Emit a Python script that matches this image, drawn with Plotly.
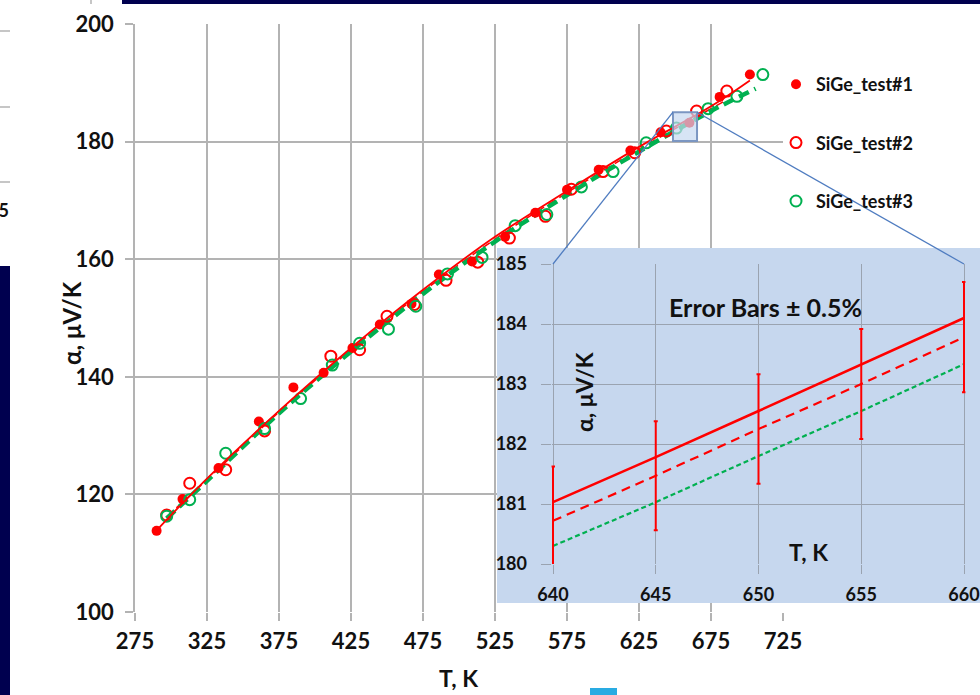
import plotly.graph_objects as go

# ---- measured Seebeck coefficient, three SiGe samples ----
t1 = [290, 308, 333, 361, 385, 406, 426, 445, 467, 486, 509, 532, 553, 575, 597, 619, 640, 660, 681, 702]
a1 = [113.8, 119.2, 124.5, 132.4, 138.2, 140.7, 144.9, 148.9, 152.4, 157.4, 159.6, 163.8, 167.9, 171.8,
      175.2, 178.5, 181.6, 183.2, 187.6, 191.4]

t2 = [297, 313, 338, 365, 411, 431, 450, 469, 491, 513, 535, 560, 578, 600, 622, 644, 665, 686]
a2 = [116.5, 121.9, 124.2, 130.8, 143.5, 144.6, 150.3, 152.3, 156.4, 159.5, 163.6, 167.3, 171.9,
      174.9, 178.1, 181.8, 185.2, 188.6]

t3 = [297, 313, 338, 365, 390, 412, 431, 451, 470, 492, 516, 539, 561, 585, 607, 630, 651, 673, 693, 711]
a3 = [116.3, 119.1, 127.0, 131.2, 136.3, 142.0, 145.7, 148.1, 152.0, 157.5, 160.3, 165.7, 167.6, 172.3,
      174.9, 179.8, 182.3, 185.6, 187.7, 191.4]

# trend lines of each sample
fit_t1 = [290, 325, 375, 425, 475, 525, 575, 625, 675, 702]
fit_a1 = [113.9, 122.7, 134.2, 144.9, 154.8, 163.8, 171.6, 179.1, 186.0, 190.4]
fit_t2 = [297, 325, 375, 425, 475, 525, 575, 625, 675, 686]
fit_a2 = [116.2, 122.5, 134.0, 144.6, 154.5, 163.4, 171.3, 178.7, 185.6, 187.1]
fit_t3 = [297, 325, 375, 425, 475, 525, 575, 625, 675, 706]
fit_a3 = [115.9, 122.3, 133.8, 144.3, 154.1, 163.0, 170.9, 178.3, 185.2, 189.0]

# zoomed window 640-660 K
zoom_t = [640, 645, 650, 655, 660]
zoom_fit1 = [181.03, 181.78, 182.55, 183.33, 184.10]
zoom_fit2 = [180.72, 181.47, 182.25, 183.00, 183.78]
zoom_fit3 = [180.30, 181.03, 181.80, 182.55, 183.33]
err_pct = 0.5

names = ["SiGe_test#1", "SiGe_test#2", "SiGe_test#3"]
main_xticks = [275, 325, 375, 425, 475, 525, 575, 625, 675, 725]
main_yticks = [100, 120, 140, 160, 180, 200]
zoom_xticks = [640, 645, 650, 655, 660]
zoom_box_t = [648.6, 665.3]
zoom_box_a = [180.1, 185.0]

RED = "#ff0000"
GREEN = "#00b050"
FONT = "Lato, 'Open Sans', sans-serif"
W, H = 980, 695


def px_x(p):
    return p / W


def px_y(p):
    return 1 - p / H


# axis domains (paper fractions)
main_dx = [px_x(135), px_x(783)]
main_dy = [px_y(612), px_y(24)]
bg_dx = [px_x(497), 1.0]
bg_dy = [px_y(603), px_y(248)]
main_xr = [275, 725]
main_yr = [100, 200]
# inset: 640..660 spans 553..964 px; a small pad keeps the edge error bars whole
ins_pad = 0.07
ins_ppu = (964 - 553) / 20.0
ins_xr = [640 - ins_pad, 660 + ins_pad]
ins_yr = [180, 185]
ins_dx = [px_x(553 - ins_pad * ins_ppu), px_x(964 + ins_pad * ins_ppu)]
ins_dy = [px_y(564), px_y(264)]


def to_paper(v, rng, dom):
    return dom[0] + (v - rng[0]) / (rng[1] - rng[0]) * (dom[1] - dom[0])


fig = go.Figure()

# ---- main chart: trend lines ----
fig.add_trace(go.Scatter(x=fit_t2, y=fit_a2, mode="lines", line=dict(color=RED, width=1.5, dash="8px,5px", shape="spline"),
                         showlegend=False, hoverinfo="skip"))
fig.add_trace(go.Scatter(x=fit_t3, y=fit_a3, mode="lines", line=dict(color=GREEN, width=4.5, dash="11px,6px", shape="spline"),
                         showlegend=False, hoverinfo="skip"))

# ---- main chart: measured points ----
fig.add_trace(go.Scatter(x=t1, y=a1, mode="markers", name=names[0], legendgroup="g1",
                         marker=dict(symbol="circle", size=10, color=RED), hoverinfo="skip"))
fig.add_trace(go.Scatter(x=t2, y=a2, mode="markers", name=names[1], legendgroup="g2",
                         marker=dict(symbol="circle-open", size=11, color=RED, line=dict(width=2, color=RED)),
                         hoverinfo="skip"))
fig.add_trace(go.Scatter(x=t3, y=a3, mode="markers", name=names[2], legendgroup="g3",
                         marker=dict(symbol="circle-open", size=11, color=GREEN, line=dict(width=2, color=GREEN)),
                         hoverinfo="skip"))
fig.add_trace(go.Scatter(x=fit_t1, y=fit_a1, mode="lines", line=dict(color=RED, width=1.8, shape="spline"),
                         showlegend=False, hoverinfo="skip"))

# ---- inset panel background (own hidden axes so it sits above the main grid) ----
fig.add_trace(go.Scatter(x=[0, 1, 1, 0, 0], y=[0, 0, 1, 1, 0], xaxis="x2", yaxis="y2", mode="lines",
                         fill="toself", fillcolor="#c6d7ee", line=dict(width=0), showlegend=False,
                         hoverinfo="skip"))

# ---- inset: zoomed trend lines with ±0.5 % error bars ----
fig.add_trace(go.Scatter(x=zoom_t, y=zoom_fit3, xaxis="x3", yaxis="y3", mode="lines",
                         line=dict(color=GREEN, width=2.2, dash="5px,3px"), showlegend=False, hoverinfo="skip"))
fig.add_trace(go.Scatter(x=zoom_t, y=zoom_fit2, xaxis="x3", yaxis="y3", mode="lines",
                         line=dict(color=RED, width=2.2, dash="9px,6px"),
                         error_y=dict(type="percent", value=err_pct, color=RED, thickness=2, width=2),
                         showlegend=False, hoverinfo="skip"))
fig.add_trace(go.Scatter(x=zoom_t, y=zoom_fit1, xaxis="x3", yaxis="y3", mode="lines",
                         line=dict(color=RED, width=2.5), showlegend=False, hoverinfo="skip"))

tickfont_main = dict(family=FONT, size=22, color="#111111", weight="bold")
tickfont_ins = dict(family=FONT, size=18, color="#111111", weight="bold")

fig.update_layout(
    width=W, height=H,
    margin=dict(l=0, r=0, t=0, b=0),
    paper_bgcolor="white", plot_bgcolor="rgba(0,0,0,0)",
    hovermode=False,
    showlegend=True,
    legend=dict(x=px_x(776), y=px_y(66), xanchor="left", yanchor="top", bgcolor="rgba(0,0,0,0)",
                font=dict(family=FONT, size=18, color="#111111", weight="bold"),
                tracegroupgap=32, traceorder="grouped"),
    xaxis=dict(domain=main_dx, range=main_xr, tickvals=main_xticks, showgrid=True, gridcolor="#b3b3b3",
               gridwidth=1.5, showline=False, zeroline=False, ticks="outside", ticklen=8, tickcolor="#b3b3b3",
               tickwidth=1.5, tickfont=tickfont_main, ticklabelstandoff=2, anchor="y", automargin=False),
    yaxis=dict(domain=main_dy, range=main_yr, tickvals=main_yticks, showgrid=True, gridcolor="#b3b3b3",
               gridwidth=1.5, showline=True, linecolor="#b3b3b3", linewidth=1.5, zeroline=False,
               ticks="outside", ticklen=8, tickcolor="#b3b3b3", tickwidth=1.5, tickfont=tickfont_main,
               ticklabelstandoff=7, anchor="x", automargin=False),
    xaxis2=dict(domain=bg_dx, range=[0, 1], visible=False, anchor="y2", fixedrange=True),
    yaxis2=dict(domain=bg_dy, range=[0, 1], visible=False, anchor="x2", fixedrange=True),
    xaxis3=dict(domain=ins_dx, range=ins_xr, tickvals=zoom_xticks, showgrid=True, gridcolor="#9aa3b0",
                gridwidth=1, zeroline=False, showline=False, ticks="outside", ticklen=9, tickcolor="#9aa3b0",
                tickfont=tickfont_ins, ticklabelstandoff=5, anchor="y3", automargin=False,
                layer="below traces"),
    yaxis3=dict(domain=ins_dy, range=ins_yr, dtick=1, showgrid=True, gridcolor="#9aa3b0", gridwidth=1,
                zeroline=False, showline=False, ticks="outside", ticklen=10,
                tickcolor="#9aa3b0", tickfont=tickfont_ins, ticklabelstandoff=10, anchor="x3",
                automargin=False, layer="below traces"),
)

# ---- titles ----
title_font = dict(family=FONT, size=22, color="#111111", weight="bold")


def label(text, x, y, font, angle=0, xanchor="center"):
    fig.add_annotation(text=text, x=px_x(x), y=px_y(y), xref="paper", yref="paper", showarrow=False,
                       textangle=angle, xanchor=xanchor, yanchor="middle", font=font)


label("α, μV/K", 72, 323, dict(title_font, size=24), angle=-90)
label("T, K", 458, 678, dict(title_font, size=23))
label("Error Bars ± 0.5%", 765, 307, dict(family=FONT, size=25, color="#111111", weight="bold"))
label("α, μV/K", 584, 392, dict(title_font, size=23), angle=-90)
label("T, K", 808, 552, dict(title_font, size=23))

# ---- zoom window on the main curve and its connectors to the inset ----
fig.add_shape(type="rect", xref="x", yref="y", x0=zoom_box_t[0], x1=zoom_box_t[1], y0=zoom_box_a[0],
              y1=zoom_box_a[1], fillcolor="rgba(198,217,241,0.7)", line=dict(color="#7b96c2", width=2),
              layer="above")
for bx, ix in ((zoom_box_t[0], zoom_xticks[0]), (zoom_box_t[1], zoom_xticks[-1])):
    fig.add_shape(type="line", xref="paper", yref="paper",
                  x0=to_paper(bx, main_xr, main_dx), y0=to_paper(zoom_box_a[1], main_yr, main_dy),
                  x1=to_paper(ix, ins_xr, ins_dx), y1=to_paper(ins_yr[1], ins_yr, ins_dy),
                  line=dict(color="#4f7cc0", width=1.3), layer="above")

# ---- slide surroundings ----
NAVY = "#00004f"
fig.add_shape(type="rect", xref="paper", yref="paper", x0=px_x(122), x1=1, y0=px_y(4), y1=1,
              fillcolor=NAVY, line=dict(width=0), layer="above")
fig.add_shape(type="rect", xref="paper", yref="paper", x0=0, x1=px_x(10), y0=0, y1=px_y(266),
              fillcolor=NAVY, line=dict(width=0), layer="above")
fig.add_shape(type="rect", xref="paper", yref="paper", x0=px_x(590), x1=px_x(617), y0=0, y1=px_y(688),
              fillcolor="#29abe2", line=dict(width=0), layer="above")
for yy in (31, 107, 182):
    fig.add_shape(type="line", xref="paper", yref="paper", x0=0, x1=px_x(10), y0=px_y(yy), y1=px_y(yy),
                  line=dict(color="#b3b3b3", width=1.5), layer="above")
fig.add_shape(type="line", xref="paper", yref="paper", x0=px_x(91), x1=px_x(91), y0=px_y(4), y1=1,
              line=dict(color="#b3b3b3", width=1.5), layer="above")
label("75", 11, 210, dict(family=FONT, size=18, color="#111111", weight="bold"), xanchor="right")

fig.write_html("out.html")
